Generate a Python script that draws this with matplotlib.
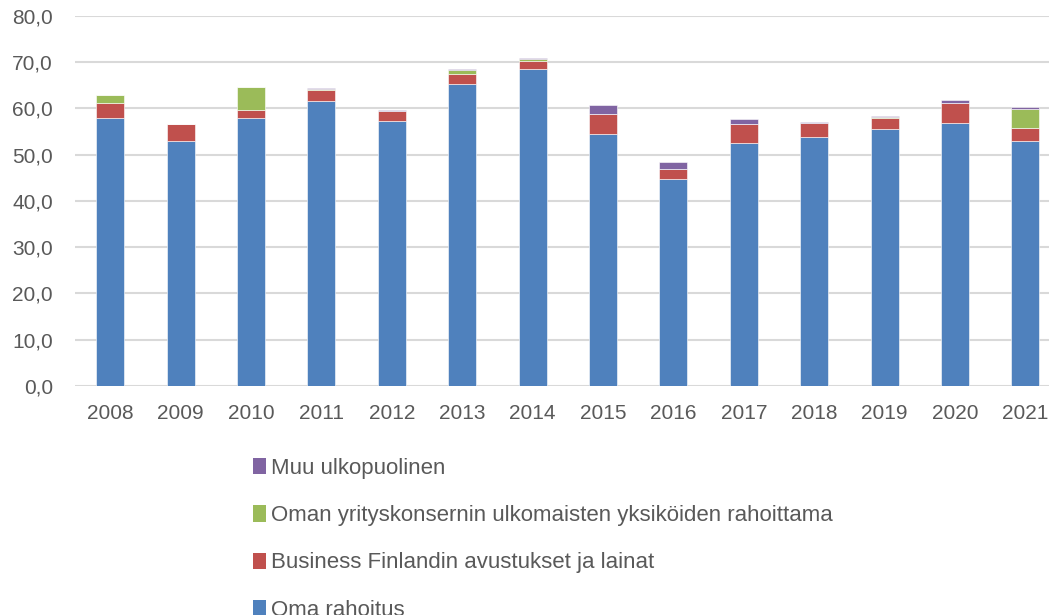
import numpy as np
import matplotlib
matplotlib.use("Agg")
import matplotlib.pyplot as plt
from matplotlib.patches import Patch
from matplotlib.ticker import FuncFormatter

years = ["2008", "2009", "2010", "2011", "2012", "2013", "2014",
         "2015", "2016", "2017", "2018", "2019", "2020", "2021"]

oma = [58.0, 53.0, 57.9, 61.5, 57.3, 65.2, 68.5, 54.4, 44.7, 52.6, 53.7, 55.6, 56.9, 53.0]
business_finland = [3.2, 3.7, 1.8, 2.5, 2.2, 2.3, 1.7, 4.3, 2.2, 3.9, 3.2, 2.3, 4.3, 2.8]
konserni = [1.7, 0.0, 4.8, 0.1, 0.0, 0.8, 0.4, 0.0, 0.0, 0.0, 0.0, 0.2, 0.0, 4.1]
muu = [0.0, 0.0, 0.0, 0.2, 0.1, 0.2, 0.3, 1.9, 1.6, 1.1, 0.2, 0.3, 0.5, 0.3]

series = [
    ("Oma rahoitus", oma, "#4F81BD"),
    ("Business Finlandin avustukset ja lainat", business_finland, "#C0504D"),
    ("Oman yrityskonsernin ulkomaisten yksiköiden rahoittama", konserni, "#9BBB59"),
    ("Muu ulkopuolinen", muu, "#8064A2"),
]

plt.rcParams['font.family'] = ['Liberation Sans', 'DejaVu Sans']
text_color = '#595959'

fig = plt.figure(figsize=(10.49, 6.15), dpi=100)
ax = fig.add_axes([75 / 1049, 1 - 386 / 615, 985.6 / 1049, 370.3 / 615])

x = np.arange(len(years))
bottom = np.zeros(len(years))
handles = []
for label, vals, color in series:
    vals = np.array(vals)
    ax.bar(x, vals, width=0.4, bottom=bottom, color=color,
           edgecolor='white', linewidth=0.4, zorder=3)
    bottom += vals
    handles.append(Patch(facecolor=color, edgecolor='none', label=label))

ax.set_xlim(-0.5, len(years) - 0.5)
ax.set_ylim(0, 80)
ax.set_yticks(np.arange(0, 81, 10))
ax.yaxis.set_major_formatter(FuncFormatter(lambda v, p: f"{v:.1f}".replace('.', ',')))
ax.set_xticks(x)
ax.set_xticklabels(years)

ax.grid(axis='y', color='#D9D9D9', linewidth=1.5, zorder=0)
ax.set_axisbelow(True)
for s in ax.spines.values():
    s.set_visible(False)
ax.tick_params(axis='both', length=0, colors=text_color, labelsize=15)
ax.tick_params(axis='y', pad=16)
ax.tick_params(axis='x', pad=13)

# legend in reverse order, like the stacked bars
fig.legend(handles=handles[::-1], loc='upper left',
           bbox_to_anchor=(253 / 1049, 1 - 458 / 615),
           frameon=False, fontsize=16, labelcolor=text_color,
           handlelength=0.6, handleheight=0.75, handletextpad=0.2,
           labelspacing=1.18, borderaxespad=0, borderpad=0)

fig.savefig("out.png", dpi=100)
